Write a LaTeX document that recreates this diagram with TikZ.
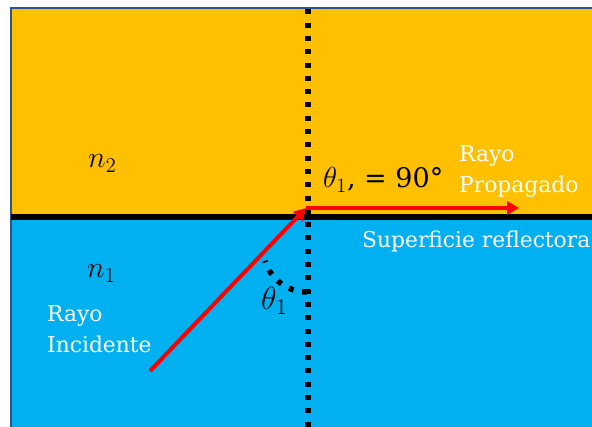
\RequirePackage{fix-cm}
\documentclass[tikz,border=0pt]{standalone}
\usepackage{fontspec}
\usepackage{graphicx}
\setmainfont{DejaVu Serif}
\usetikzlibrary{arrows.meta}
\definecolor{orng}{HTML}{FFC000}
\definecolor{sky}{HTML}{00B0F0}
\definecolor{edgeblue}{HTML}{2F528F}
\newcommand{\mathbig}[2][1.35]{\scalebox{#1}{$#2$}}
\begin{document}
\begin{tikzpicture}[x=1pt,y=-1pt,
  lbl/.style={text=white,font=\fontsize{21.8}{31}\selectfont,align=left,inner sep=0pt},
  mlbl/.style={text=black,font=\fontsize{20}{24}\selectfont,inner sep=0pt},
  ray/.style={draw=red,line width=4pt,-{Triangle[length=12pt,width=13pt]}},
  vdots/.style={line width=6pt,dash pattern=on 5pt off 8.3pt},
  adots/.style={line width=5.5pt,dash pattern=on 5pt off 8.6pt},
]
\useasboundingbox (0,0) rectangle (592,427);
\fill[white] (0,0) rectangle (592,427);
\begin{scope}
  \clip (0,0) rectangle (592,427);
  \fill[orng] (11,8) rectangle (600,217);
  \fill[sky] (11,217) rectangle (600,435);
  \draw[edgeblue,line width=1.2pt] (11,435) -- (11,8) -- (600,8);
  % interface
  \draw[black,line width=6pt] (11,217) -- (600,217);
  % normal
  \draw[vdots] (308,9.4) -- (308,440);
\end{scope}
% angle arc
\draw[adots] (307,292) arc[start angle=90,end angle=163,radius=44];
% rays
\coordinate (S) at (150,371);
\coordinate (O) at (306,208);
\coordinate (E) at (519,208);
\draw[ray] (S) -- (O);
\draw[ray] (O) -- (E);
% labels
\node[mlbl,anchor=base west] (n2) at (88,168) {\mathbig[1.5]{n_2}};
\node[mlbl,anchor=base west] (n1) at (87,278) {\mathbig[1.5]{n_1}};
\node[mlbl,anchor=base west] (th) at (261,310) {\mathbig[1.6]{\theta_1}};
\node[mlbl,anchor=base west] (th90) at (323,188) {\mathbig[1.45]{\theta_1}{\fontsize{27}{30}\selectfont, = 90°}};
\node[lbl,anchor=north west] (inc) at (47,305) {Rayo\\Incidente};
\node[lbl,anchor=north west] (prop) at (459,145) {Rayo\\Propagado};
\node[lbl,anchor=base west] (sup) at (362,248) {Superficie reflectora};
\end{tikzpicture}
\end{document}
